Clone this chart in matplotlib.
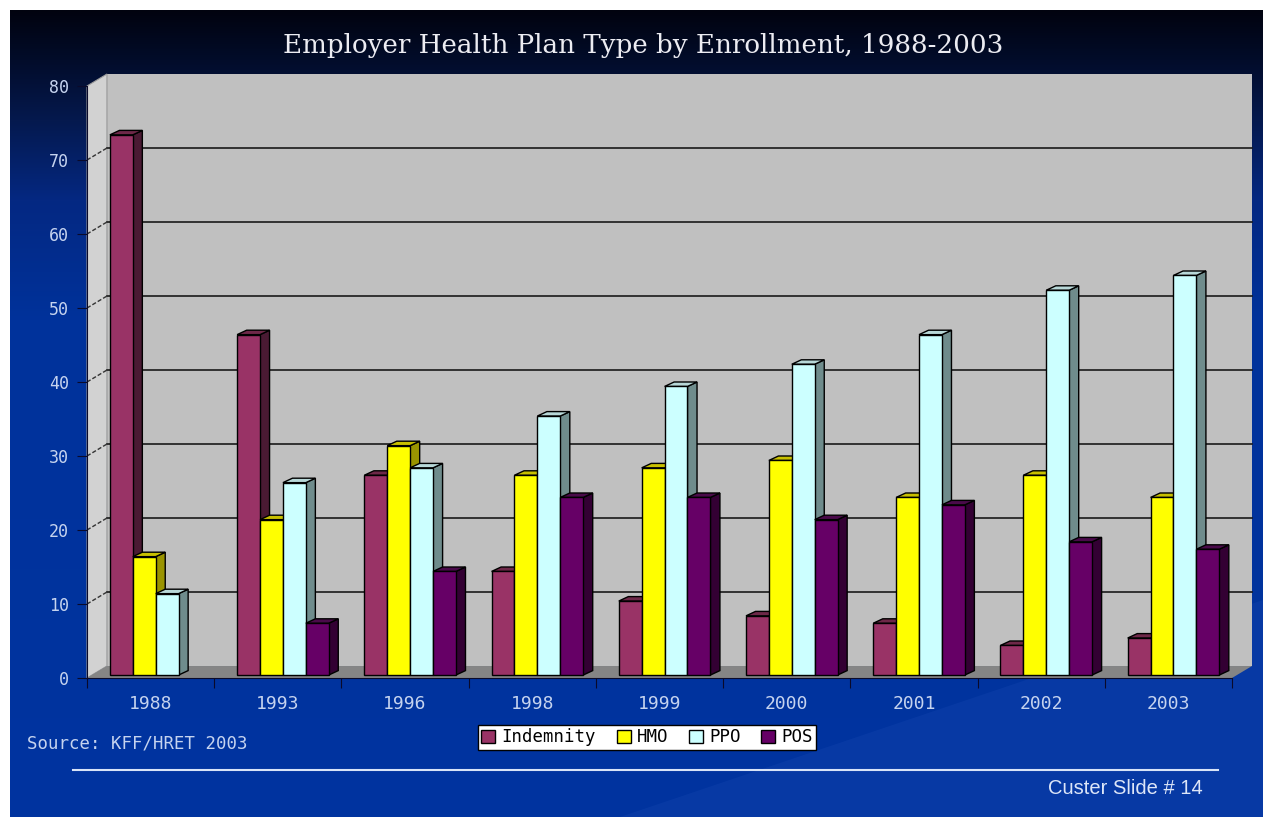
import numpy as np
import matplotlib.pyplot as plt
from matplotlib.patches import Polygon, Rectangle

# data
years = ['1988', '1993', '1996', '1998', '1999', '2000', '2001', '2002', '2003']
plan_types = ['Indemnity', 'HMO', 'PPO', 'POS']
indemnity = [73, 46, 27, 14, 10, 8, 7, 4, 5]
hmo = [16, 21, 31, 27, 28, 29, 24, 27, 24]
ppo = [11, 26, 28, 35, 39, 42, 46, 52, 54]
pos = [0, 7, 14, 24, 24, 21, 23, 18, 17]
y_ticks = [0, 10, 20, 30, 40, 50, 60, 70, 80]

front_colors = ['#993366', '#ffff00', '#ccffff', '#660066']
side_colors = ['#4a1a33', '#9a9400', '#6f8c8c', '#330033']
top_colors = ['#6e2848', '#c8c000', '#b8d8d8', '#4a0a4a']

W, H = 1263, 817
fig = plt.figure(figsize=(W / 100, H / 100), dpi=100)

# background: white border plus dark-to-blue gradient
bg = fig.add_axes([0, 0, 1, 1])
bg.set_xlim(0, W)
bg.set_ylim(H, 0)
bg.axis('off')
stops_y = [10, 60, 120, 200, 320, 817]
stops_c = np.array([[1, 3, 15], [2, 12, 42], [5, 25, 78], [4, 40, 130], [0, 50, 155], [0, 52, 160]]) / 255
yy = np.arange(10, H)
grad = np.stack([np.interp(yy, stops_y, stops_c[:, k]) for k in range(3)], axis=-1)
bg.imshow(grad[:, None, :], extent=[10, W, H, 10], aspect='auto', zorder=0)
# faint light swoosh lower right
bg.add_patch(Polygon([(620, 817), (1263, 600), (1263, 817)], closed=True,
                     facecolor='#3a6ad0', alpha=0.12, edgecolor='none', zorder=1))

# chart axes: x -0.5..8.5 -> 87..1232 px, y 0..80 -> 678..86 px
x0p, x1p, y0p, y1p = 87, 1232, 678, 86
ax = fig.add_axes([x0p / W, (H - y0p) / H, (x1p - x0p) / W, (y0p - y1p) / H])
ax.set_xlim(-0.5, len(years) - 0.5)
ax.set_ylim(0, 80)
ax.patch.set_visible(False)

n = len(years)
dx, dy = 0.157, 1.62      # wall depth
bw = 0.18                 # bar width
bdx, bdy = 0.075, 0.6     # bar depth
base = 0.4

# walls and floor
side = Polygon([(-0.5, 0), (-0.5 + dx, dy), (-0.5 + dx, 80 + dy), (-0.5, 80)],
               facecolor='#d2d2d2', edgecolor='#9a9a9a', lw=0.8, clip_on=False, zorder=1)
back = Polygon([(-0.5 + dx, dy), (n - 0.5 + dx, dy), (n - 0.5 + dx, 80 + dy), (-0.5 + dx, 80 + dy)],
               facecolor='#c0c0c0', edgecolor='none', clip_on=False, zorder=1)
floor = Polygon([(-0.5, 0), (n - 0.5, 0), (n - 0.5 + dx, dy), (-0.5 + dx, dy)],
                facecolor='#858585', edgecolor='none', clip_on=False, zorder=1)
for p in (back, side, floor):
    ax.add_patch(p)

for v in y_ticks[1:-1]:
    ax.plot([-0.5 + dx, n - 0.5 + dx], [v + dy, v + dy], color='#1a1a1a', lw=1.2,
            clip_on=False, zorder=2)
    ax.plot([-0.5, -0.5 + dx], [v, v + dy], color='#333333', lw=1, ls=(0, (3, 1.5)),
            clip_on=False, zorder=2)

# 3D-looking bars
series = [indemnity, hmo, ppo, pos]
for i in range(n):
    for k, vals in enumerate(series):
        v = vals[i]
        if v <= 0:
            continue
        xl = i - 0.32 + k * bw
        xr = xl + bw
        top = base + v
        ax.add_patch(Polygon([(xr, base), (xr + bdx, base + bdy), (xr + bdx, top + bdy), (xr, top)],
                             facecolor=side_colors[k], edgecolor='black', lw=1,
                             clip_on=False, zorder=3))
        ax.add_patch(Polygon([(xl, top), (xr, top), (xr + bdx, top + bdy), (xl + bdx, top + bdy)],
                             facecolor=top_colors[k], edgecolor='black', lw=1,
                             clip_on=False, zorder=3))
        ax.add_patch(Rectangle((xl, base), bw, v, facecolor=front_colors[k],
                               edgecolor='black', lw=1, clip_on=False, zorder=3))

# axes styling
mono = 'DejaVu Sans Mono'
for s in ('top', 'right'):
    ax.spines[s].set_visible(False)
ax.spines['left'].set_color('#0a0a2a')
ax.spines['bottom'].set_color('#0a0a2a')
ax.spines['left'].set_zorder(4)
ax.spines['bottom'].set_zorder(4)
label_color = '#c5d3ef'
ax.set_yticks(y_ticks)
ax.tick_params(axis='y', direction='out', length=7, color='#0a0a2a', pad=6,
               labelcolor=label_color, labelsize=12)
ax.set_xticks(np.arange(n + 1) - 0.5)
ax.set_xticklabels([])
ax.tick_params(axis='x', which='major', direction='out', length=7, color='#0a0a2a')
ax.set_xticks(np.arange(n), minor=True)
ax.set_xticklabels(years, minor=True)
ax.tick_params(axis='x', which='minor', length=0, pad=12, labelcolor=label_color,
               labelsize=13)
for lab in ax.get_yticklabels() + ax.get_xticklabels(minor=True):
    lab.set_family(mono)

# title and texts
fig.text(643 / W, 1 - 45 / H, 'Employer Health Plan Type by Enrollment, 1988-2003',
         ha='center', va='center', color='#ececf2', fontsize=18.8, family='DejaVu Serif')
fig.text(27 / W, 1 - 743 / H, 'Source: KFF/HRET 2003', ha='left', va='center',
         color=label_color, fontsize=12.5, family=mono)
fig.text(1203 / W, 1 - 789 / H, 'Custer Slide # 14', ha='right', va='center',
         color='#dde6f8', fontsize=14.5, family='Liberation Sans')
bg.plot([73, 1218], [770, 770], color='#d8e4f8', lw=1.5, zorder=2)

# legend
handles = [Rectangle((0, 0), 1, 1, facecolor=c, edgecolor='black', lw=1) for c in front_colors]
leg = fig.legend(handles, plan_types, ncol=4, loc='center', bbox_to_anchor=(647 / W, 1 - 737.5 / H),
                 frameon=True, fancybox=False, framealpha=1, edgecolor='black',
                 prop={'family': mono, 'size': 12.5}, handlelength=0.8, handleheight=0.8,
                 handletextpad=0.35, columnspacing=1.2, borderpad=0.2, borderaxespad=0)
leg.get_frame().set_linewidth(1)

fig.savefig('out.png', dpi=100)
